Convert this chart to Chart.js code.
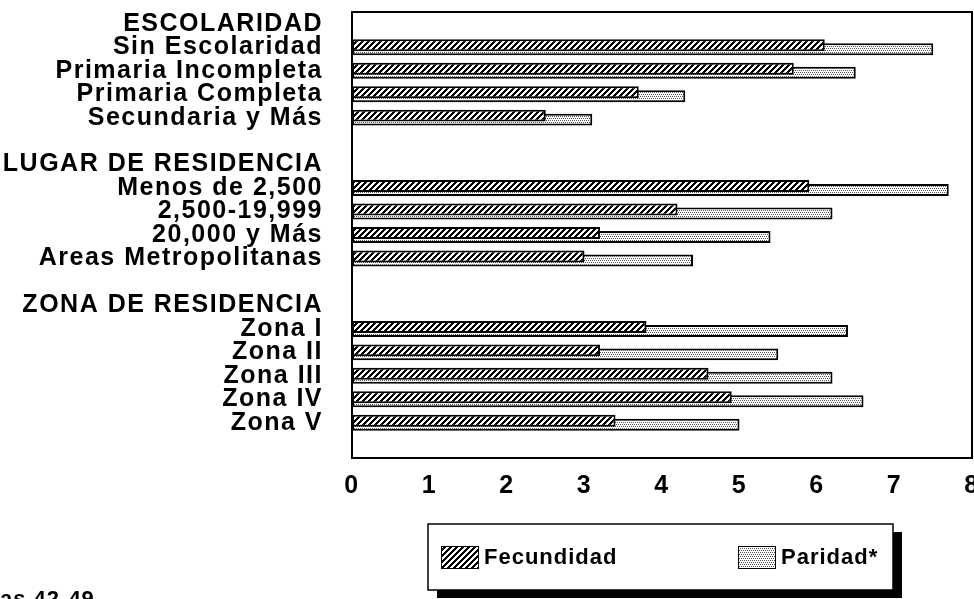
<!DOCTYPE html>
<html>
<head>
<meta charset="utf-8">
<script src="https://cdn.jsdelivr.net/npm/chart.js@4.4.1/dist/chart.umd.min.js"></script>
<style>
  html, body { margin: 0; padding: 0; background: #fff; }
  #wrap { width: 974px; height: 599px; position: relative; }
</style>
</head>
<body>
<div id="wrap"><canvas id="chart"></canvas></div>
<script>
"use strict";

// row labels, headers included; "" rows are the blank spacer rows
const categories = [
  "ESCOLARIDAD", "Sin Escolaridad", "Primaria Incompleta", "Primaria Completa", "Secundaria y Más",
  "",
  "LUGAR DE RESIDENCIA", "Menos de 2,500", "2,500-19,999", "20,000 y Más", "Areas Metropolitanas",
  "",
  "ZONA DE RESIDENCIA", "Zona I", "Zona II", "Zona III", "Zona IV", "Zona V",
  ""
];
const headers = ["ESCOLARIDAD", "LUGAR DE RESIDENCIA", "ZONA DE RESIDENCIA"];

const fecundidad = [null, 6.1, 5.7, 3.7, 2.5, null, null, 5.9, 4.2, 3.2, 3.0, null, null, 3.8, 3.2, 4.6, 4.9, 3.4, null];
const paridad    = [null, 7.5, 6.5, 4.3, 3.1, null, null, 7.7, 6.2, 5.4, 4.4, null, null, 6.4, 5.5, 6.2, 6.6, 5.0, null];

const seriesNames = ["Fecundidad", "Paridad*"];
const xTicks = [0, 1, 2, 3, 4, 5, 6, 7, 8];
const footText = "as 42-49";

const FONT = "'Liberation Sans', Arial, sans-serif";

// fill patterns: diagonal hatch and light stipple
function makePattern(size, paint) {
  const c = document.createElement("canvas");
  c.width = size; c.height = size;
  const g = c.getContext("2d");
  g.fillStyle = "#fff";
  g.fillRect(0, 0, size, size);
  paint(g);
  return document.getElementById("chart").getContext("2d").createPattern(c, "repeat");
}

const hatch = makePattern(6, (g) => {
  g.fillStyle = "#000";
  for (let x = 0; x < 6; x++) {
    for (let y = 0; y < 6; y++) {
      const k = (x + y) % 6;
      if (k <= 2) g.fillRect(x, y, 1, 1);
    }
  }
});

const dots = makePattern(4, (g) => {
  g.fillStyle = "#555";
  g.fillRect(0, 0, 1, 1);
  g.fillRect(2, 0, 1, 1);
  g.fillRect(1, 2, 1, 1);
  g.fillRect(3, 2, 1, 1);
});

const fills = [hatch, dots];

const frame = {
  id: "frame",
  beforeDraw(chart) {
    chart.ctx.letterSpacing = "1.5px";
  },
  afterDraw(chart) {
    const { ctx, chartArea: a } = chart;
    ctx.save();
    ctx.strokeStyle = "#000";
    ctx.lineWidth = 2;
    ctx.strokeRect(a.left, a.top, a.right - a.left, a.bottom - a.top);

    // legend box with drop shadow
    const lx = 428, ly = 524, lw = 465, lh = 66;
    ctx.fillStyle = "#000";
    ctx.fillRect(lx + 9, ly + 8, lw, lh);
    ctx.fillStyle = "#fff";
    ctx.fillRect(lx, ly, lw, lh);
    ctx.lineWidth = 1.5;
    ctx.strokeRect(lx, ly, lw, lh);

    const items = [
      { x: 441, name: seriesNames[0], fill: fills[0] },
      { x: 738, name: seriesNames[1], fill: fills[1] }
    ];
    ctx.letterSpacing = "1px";
    ctx.font = "bold 22px " + FONT;
    ctx.textBaseline = "middle";
    ctx.textAlign = "left";
    items.forEach((it) => {
      ctx.fillStyle = it.fill;
      ctx.fillRect(it.x, 546, 37, 22);
      ctx.lineWidth = 1;
      ctx.strokeStyle = "#000";
      ctx.strokeRect(it.x + 0.5, 546.5, 37, 22);
      ctx.fillStyle = "#000";
      ctx.fillText(it.name, it.x + 43, 558);
    });

    ctx.font = "bold 22px " + FONT;
    ctx.textBaseline = "alphabetic";
    ctx.fillText(footText, 0, 606);
    ctx.restore();
    ctx.letterSpacing = "0px";
  }
};

new Chart(document.getElementById("chart"), {
  type: "bar",
  data: {
    labels: categories,
    datasets: [
      {
        label: seriesNames[0],
        data: fecundidad,
        backgroundColor: fills[0],
        borderColor: "#000",
        borderWidth: 2,
        borderSkipped: false
      },
      {
        label: seriesNames[1],
        data: paridad,
        backgroundColor: fills[1],
        borderColor: "#000",
        borderWidth: 2,
        borderSkipped: false
      }
    ]
  },
  options: {
    indexAxis: "y",
    responsive: true,
    maintainAspectRatio: false,
    animation: false,
    categoryPercentage: 0.34,
    barPercentage: 3,
    layout: { padding: { top: 12, right: 2, bottom: 0, left: 0 } },
    plugins: {
      legend: { display: false },
      tooltip: { enabled: false }
    },
    scales: {
      y: {
        type: "category",
        grid: { display: false, drawTicks: false },
        border: { display: false },
        afterFit: (s) => { s.width = 352; s.paddingTop = 0; s.paddingBottom = 0; },
        ticks: {
          autoSkip: false,
          padding: 29,
          color: "#000",
          font: (c) => headers.includes(categories[c.index])
            ? { family: FONT, size: 25, weight: "bold" }
            : { family: FONT, size: 25, weight: "bold" }
        }
      },
      x: {
        min: 0,
        max: 8,
        grid: { display: false, drawTicks: false },
        border: { display: false },
        afterBuildTicks: (s) => { s.ticks = xTicks.map((v) => ({ value: v })); },
        afterFit: (s) => { s.height = 141; s.paddingLeft = 0; s.paddingRight = 0; },
        ticks: {
          padding: 13,
          color: "#000",
          maxRotation: 0,
          font: { family: FONT, size: 25, weight: "bold" }
        }
      }
    }
  },
  plugins: [frame]
});
</script>
</body>
</html>
